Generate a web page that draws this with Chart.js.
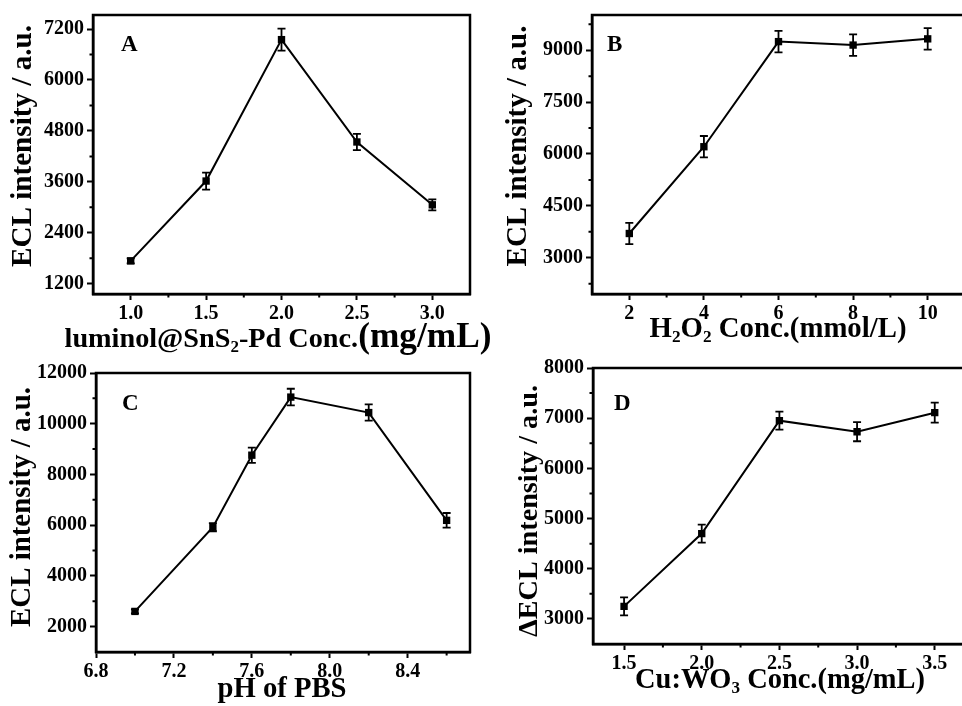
<!DOCTYPE html>
<html>
<head>
<meta charset="utf-8">
<script src="https://cdn.jsdelivr.net/npm/chart.js@4.4.1/dist/chart.umd.min.js"></script>
<style>
  html, body { margin: 0; padding: 0; background: #fff; overflow: hidden; width: 962px; height: 706px; }
  canvas { position: absolute; }
</style>
</head>
<body>
<canvas id="cA"></canvas>
<canvas id="cB"></canvas>
<canvas id="cC"></canvas>
<canvas id="cD"></canvas>
<script>
// A: luminol@SnS2-Pd concentration
const concA = [1.0, 1.5, 2.0, 2.5, 3.0];
const eclA = [1740, 3620, 6950, 4540, 3060];
const errA = [60, 200, 260, 190, 130];
const xTicksA = [1.0, 1.5, 2.0, 2.5, 3.0];
const yTicksA = [1200, 2400, 3600, 4800, 6000, 7200];
const xMinorA = [1.25, 1.75, 2.25, 2.75];
const yMinorA = [1800, 3000, 4200, 5400, 6600];

// B: H2O2 concentration
const h2o2B = [2, 4, 6, 8, 10];
const eclB = [3700, 6210, 9250, 9150, 9330];
const errB = [310, 310, 310, 310, 310];
const xTicksB = [2, 4, 6, 8, 10];
const yTicksB = [3000, 4500, 6000, 7500, 9000];
const xMinorB = [3, 5, 7, 9];
const yMinorB = [2250, 3750, 5250, 6750, 8250, 9750];

// C: pH of PBS
const phC = [7.0, 7.4, 7.6, 7.8, 8.2, 8.6];
const eclC = [2600, 5920, 8760, 11050, 10440, 6190];
const errC = [80, 160, 300, 330, 320, 290];
const xTicksC = [6.8, 7.2, 7.6, 8.0, 8.4];
const yTicksC = [2000, 4000, 6000, 8000, 10000, 12000];
const xMinorC = [7.0, 7.4, 7.8, 8.2, 8.6];
const yMinorC = [3000, 5000, 7000, 9000, 11000];

// D: Cu:WO3 concentration
const cuD = [1.5, 2.0, 2.5, 3.0, 3.5];
const eclD = [3250, 4700, 6950, 6730, 7110];
const errD = [180, 180, 180, 190, 200];
const xTicksD = [1.5, 2.0, 2.5, 3.0, 3.5];
const yTicksD = [3000, 4000, 5000, 6000, 7000, 8000];
const xMinorD = [1.75, 2.25, 2.75, 3.25];
const yMinorD = [3500, 4500, 5500, 6500, 7500];

const FONT = '"Liberation Serif", "Times New Roman", serif';

const panels = [
  { id: "cA", cv: [0, 0, 500, 360], box: [93, 13, 470, 294],
    xs: concA, ys: eclA, es: errA, xRange: [0.75, 3.25], yRange: [960, 7530],
    xTicks: xTicksA, yTicks: yTicksA, xMinor: xMinorA, yMinor: yMinorA, xDec: 1,
    letter: "A", letterAt: [121, 51],
    yTitle: { segs: [{ t: "ECL intensity / a.u." }], at: [23, 146], w: 242 },
    xTitle: { segs: [{ t: "luminol@SnS" }, { t: "2", sub: true }, { t: "-Pd Conc." }, { t: "(mg/mL)", k: 1.25 }], at: [278, 347], w: 427 } },
  { id: "cB", cv: [481, 0, 490, 353], box: [592, 14, 965, 294],
    xs: h2o2B, ys: eclB, es: errB, xRange: [1, 11], yRange: [1950, 10020],
    xTicks: xTicksB, yTicks: yTicksB, xMinor: xMinorB, yMinor: yMinorB, xDec: 0,
    letter: "B", letterAt: [607, 51],
    yTitle: { segs: [{ t: "ECL intensity / a.u." }], at: [519, 146], w: 241 },
    xTitle: { segs: [{ t: "H" }, { t: "2", sub: true }, { t: "O" }, { t: "2", sub: true }, { t: " Conc.(mmol/L)" }], at: [778, 337], w: 257 } },
  { id: "cC", cv: [0, 353, 500, 353], box: [96, 373, 470, 652],
    xs: phC, ys: eclC, es: errC, xRange: [6.8, 8.72], yRange: [1000, 12000],
    xTicks: xTicksC, yTicks: yTicksC, xMinor: xMinorC, yMinor: yMinorC, xDec: 1,
    letter: "C", letterAt: [122, 410],
    yTitle: { segs: [{ t: "ECL intensity / a.u." }], at: [23, 507], w: 240 },
    xTitle: { segs: [{ t: "pH of PBS" }], at: [282, 697], w: 129 } },
  { id: "cD", cv: [481, 353, 490, 353], box: [593, 368, 966, 644],
    xs: cuD, ys: eclD, es: errD, xRange: [1.3, 3.7], yRange: [2500, 8000],
    xTicks: xTicksD, yTicks: yTicksD, xMinor: xMinorD, yMinor: yMinorD, xDec: 1,
    letter: "D", letterAt: [614, 410],
    yTitle: { segs: [{ t: "\u0394ECL intensity / a.u." }], at: [530, 511], w: 252 },
    xTitle: { segs: [{ t: "Cu:WO" }, { t: "3", sub: true }, { t: " Conc.(mg/mL)" }], at: [780, 688], w: 290 } }
];
const panelById = {};
panels.forEach(p => panelById[p.id] = p);

function segFont(s, size) {
  return `bold ${(size * (s.sub ? 0.6 : 1) * (s.k || 1)).toFixed(2)}px ${FONT}`;
}

function richWidth(ctx, segs, size) {
  let w = 0;
  segs.forEach(s => { ctx.font = segFont(s, size); w += ctx.measureText(s.t).width; });
  return w;
}

// draw mixed-size text centred on (cx, cy), fitted to a given length
function drawRich(ctx, segs, cx, cy, width, rotated) {
  const size = 30 * width / richWidth(ctx, segs, 30);
  const total = richWidth(ctx, segs, size);
  ctx.save();
  ctx.translate(cx, cy);
  if (rotated) ctx.rotate(-Math.PI / 2);
  ctx.fillStyle = "#000";
  ctx.textAlign = "left";
  ctx.textBaseline = rotated ? "middle" : "alphabetic";
  let x = -total / 2;
  segs.forEach(s => {
    ctx.font = segFont(s, size);
    ctx.fillText(s.t, x, s.sub ? size * 0.18 : 0);
    x += ctx.measureText(s.t).width;
  });
  ctx.restore();
}

const decor = {
  id: "decor",
  beforeDatasetsDraw(chart) {
    const p = panelById[chart.canvas.id];
    const ctx = chart.ctx, xs = chart.scales.x, ys = chart.scales.y;
    ctx.save();
    ctx.strokeStyle = "#000";
    ctx.lineWidth = 1.8;
    p.xs.forEach((xv, i) => {
      const px = xs.getPixelForValue(xv);
      const top = ys.getPixelForValue(p.ys[i] + p.es[i]);
      const bot = ys.getPixelForValue(p.ys[i] - p.es[i]);
      ctx.beginPath();
      ctx.moveTo(px, top); ctx.lineTo(px, bot);
      ctx.moveTo(px - 4, top); ctx.lineTo(px + 4, top);
      ctx.moveTo(px - 4, bot); ctx.lineTo(px + 4, bot);
      ctx.stroke();
    });
    ctx.restore();
  },
  afterDraw(chart) {
    const p = panelById[chart.canvas.id];
    const ctx = chart.ctx, a = chart.chartArea;
    const xs = chart.scales.x, ys = chart.scales.y;
    const ox = p.cv[0], oy = p.cv[1];
    ctx.save();
    ctx.strokeStyle = "#000";
    ctx.lineWidth = 2.5;
    ctx.strokeRect(a.left, a.top, a.right - a.left, a.bottom - a.top);
    // minor ticks
    ctx.lineWidth = 2;
    ctx.beginPath();
    p.xMinor.forEach(v => {
      const px = xs.getPixelForValue(v);
      ctx.moveTo(px, a.bottom); ctx.lineTo(px, a.bottom + 3.5);
    });
    p.yMinor.forEach(v => {
      const py = ys.getPixelForValue(v);
      if (py < a.top - 1 || py > a.bottom + 1) return;
      ctx.moveTo(a.left, py); ctx.lineTo(a.left - 3.5, py);
    });
    ctx.stroke();
    // panel letter
    ctx.fillStyle = "#000";
    ctx.font = `bold 23px ${FONT}`;
    ctx.textAlign = "left";
    ctx.textBaseline = "alphabetic";
    ctx.fillText(p.letter, p.letterAt[0] - ox, p.letterAt[1] - oy);
    // axis titles
    drawRich(ctx, p.yTitle.segs, p.yTitle.at[0] - ox, p.yTitle.at[1] - oy, p.yTitle.w, true);
    drawRich(ctx, p.xTitle.segs, p.xTitle.at[0] - ox, p.xTitle.at[1] - oy, p.xTitle.w, false);
    ctx.restore();
  }
};

function makeChart(p) {
  const canvas = document.getElementById(p.id);
  const [cl, ct, cw, ch] = p.cv;
  const [bl, bt, br, bb] = p.box;
  canvas.width = cw; canvas.height = ch;
  canvas.style.left = cl + "px"; canvas.style.top = ct + "px";
  canvas.style.width = cw + "px"; canvas.style.height = ch + "px";
  const tickFont = { family: FONT, size: 20, weight: "bold" };
  const axisCommon = {
    type: "linear",
    grid: { drawOnChartArea: false, drawTicks: true, tickLength: 6, tickWidth: 2, tickColor: "#000", color: "#000" },
    border: { display: true, color: "#000", width: 2.5 }
  };
  return new Chart(canvas, {
    type: "line",
    data: {
      datasets: [{
        data: p.xs.map((x, i) => ({ x: x, y: p.ys[i] })),
        borderColor: "#000",
        backgroundColor: "#000",
        borderWidth: 2,
        pointStyle: "rect",
        pointRadius: 5.2,
        pointBorderWidth: 0,
        tension: 0
      }]
    },
    options: {
      responsive: false,
      animation: false,
      layout: { padding: { left: 0, bottom: 0, top: bt - ct, right: cl + cw - br } },
      plugins: { legend: { display: false }, tooltip: { enabled: false } },
      scales: {
        x: Object.assign({}, axisCommon, {
          min: p.xRange[0], max: p.xRange[1],
          afterBuildTicks: s => { s.ticks = p.xTicks.map(v => ({ value: v })); },
          afterFit: s => { s.height = ct + ch - bb; },
          ticks: { color: "#000", font: tickFont, padding: 2, maxRotation: 0,
                   callback: v => Number(v).toFixed(p.xDec) }
        }),
        y: Object.assign({}, axisCommon, {
          min: p.yRange[0], max: p.yRange[1],
          afterBuildTicks: s => { s.ticks = p.yTicks.map(v => ({ value: v })); },
          afterFit: s => { s.width = bl - cl; },
          ticks: { color: "#000", font: tickFont, padding: 3, callback: v => String(v) }
        })
      }
    },
    plugins: [decor]
  });
}

panels.forEach(makeChart);
</script>
</body>
</html>
